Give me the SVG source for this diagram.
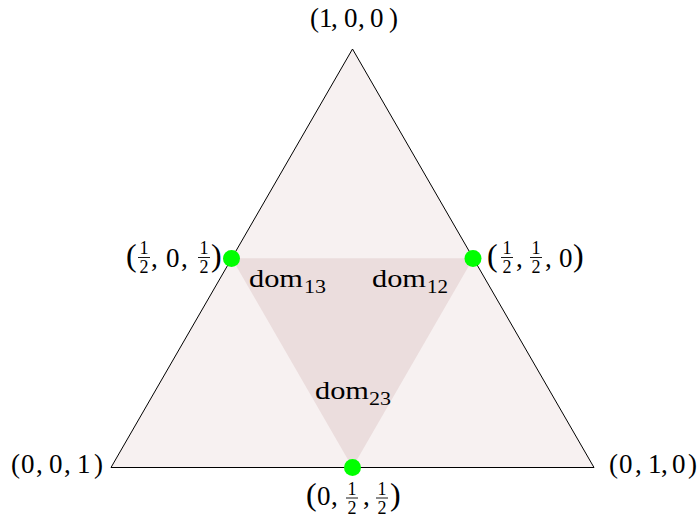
<svg xmlns="http://www.w3.org/2000/svg" width="700" height="519" viewBox="0 0 700 519">
  <style>
    text { font-family: "Liberation Serif", "Times New Roman", serif; fill: #000; }
    .lbl { font-size: 27px; }
    .par { font-size: 32px; }
    .fr { font-size: 18px; text-anchor: middle; }
    .dom { font-size: 26px; }
    .sub { font-size: 19px; }
    .bar { stroke: #000; stroke-width: 0.9; }
    .dot { fill: #00ff00; }
  </style>
  <g id="regions">
    <polygon id="outer" points="111,467.5 352.5,49 594,467.5" fill="#f7f1f1" stroke="none"/>
    <polygon id="inner" points="231.75,258.25 473.25,258.25 352.5,467.5" fill="#ebdddd" stroke="none"/>
  </g>
  <g id="connectors">
    <polygon points="111,467.5 352.5,49 594,467.5" fill="none" stroke="#000" stroke-width="1"/>
  </g>
  <g id="v100">
    <text class="lbl" x="310 319 331 344 358 370 389" y="27">(1,0,0)</text>
  </g>
  <g id="v001">
    <text class="lbl" x="11 21 36 49 64 77 94" y="473">(0,0,1)</text>
  </g>
  <g id="v010">
    <text class="lbl" x="609 619 635 648 661 672 688" y="473">(0,1,0)</text>
  </g>
  <g id="m13">
    <circle class="dot" cx="231.5" cy="258.5" r="8.5"/>
    <text class="par" x="126" y="266">(</text>
    <text class="fr" x="144" y="254">1</text>
    <line class="bar" x1="138" y1="257.5" x2="150" y2="257.5"/>
    <text class="fr" x="144" y="272.5">2</text>
    <text class="lbl" x="151 166 181" y="267">,0,</text>
    <text class="fr" x="204" y="254">1</text>
    <line class="bar" x1="198" y1="257.5" x2="210" y2="257.5"/>
    <text class="fr" x="204" y="272.5">2</text>
    <text class="par" x="211" y="266">)</text>
  </g>
  <g id="m12">
    <circle class="dot" cx="473" cy="258.5" r="8.5"/>
    <text class="par" x="487" y="266">(</text>
    <text class="fr" x="507" y="254">1</text>
    <line class="bar" x1="501" y1="257.5" x2="513" y2="257.5"/>
    <text class="fr" x="507" y="272.5">2</text>
    <text class="lbl" x="516" y="267">,</text>
    <text class="fr" x="536" y="254">1</text>
    <line class="bar" x1="530" y1="257.5" x2="542" y2="257.5"/>
    <text class="fr" x="536" y="272.5">2</text>
    <text class="lbl" x="545 559" y="267">,0</text>
    <text class="par" x="573" y="266">)</text>
  </g>
  <g id="m23">
    <circle class="dot" cx="352.5" cy="467.5" r="8.5"/>
    <text class="par" x="306" y="505">(</text>
    <text class="lbl" x="317 331" y="505">0,</text>
    <text class="fr" x="352" y="494.5">1</text>
    <line class="bar" x1="346" y1="498" x2="358" y2="498"/>
    <text class="fr" x="352" y="513.5">2</text>
    <text class="lbl" x="363" y="505">,</text>
    <text class="fr" x="382" y="494.5">1</text>
    <line class="bar" x1="376" y1="498" x2="388" y2="498"/>
    <text class="fr" x="382" y="513.5">2</text>
    <text class="par" x="390" y="505">)</text>
  </g>
  <g id="dom13">
    <text class="dom" x="249" y="287" textLength="54" lengthAdjust="spacingAndGlyphs">dom</text>
    <text class="sub" x="304" y="293" textLength="22" lengthAdjust="spacingAndGlyphs">13</text>
  </g>
  <g id="dom12">
    <text class="dom" x="372" y="287" textLength="54" lengthAdjust="spacingAndGlyphs">dom</text>
    <text class="sub" x="427" y="293" textLength="21" lengthAdjust="spacingAndGlyphs">12</text>
  </g>
  <g id="dom23">
    <text class="dom" x="315" y="399" textLength="54" lengthAdjust="spacingAndGlyphs">dom</text>
    <text class="sub" x="369" y="405" textLength="22" lengthAdjust="spacingAndGlyphs">23</text>
  </g>
</svg>
